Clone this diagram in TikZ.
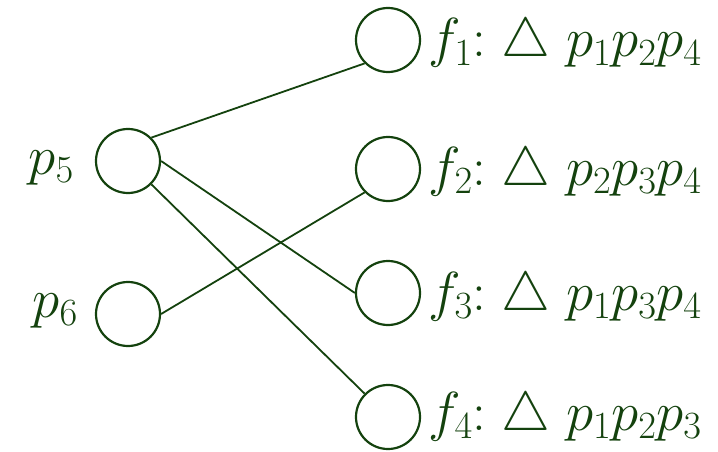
\RequirePackage{fix-cm}
\documentclass[tikz,border=0pt]{standalone}
\usepackage{amssymb}
\definecolor{dgreen}{RGB}{20,66,14}
\begin{document}
\begin{tikzpicture}[x=1pt,y=-1pt,
  vtx/.style={circle,draw=dgreen,line width=2.2pt,minimum size=64pt,inner sep=0pt},
  lbl/.style={text=dgreen,inner sep=0pt,font=\fontsize{55}{60}\selectfont},
  edge/.style={draw=dgreen,line width=1.8pt}]
\useasboundingbox (0,0) rectangle (718,452);
\node[vtx] (p5) at (128,161) {};
\node[vtx] (p6) at (128,314) {};
\node[vtx] (f1) at (388,40) {};
\node[vtx] (f2) at (388,169) {};
\node[vtx] (f3) at (388,293) {};
\node[vtx] (f4) at (388,417) {};
\node[lbl,anchor=base east] (lp5) at (74,174) {$p_5$};
\node[lbl,anchor=base east] (lp6) at (78,317) {$p_6$};
\node[lbl,anchor=base west] (lf1) at (428,57) {$f_1{:}\;\triangle\;p_1p_2p_4$};
\node[lbl,anchor=base west] (lf2) at (428,185) {$f_2{:}\;\triangle\;p_2p_3p_4$};
\node[lbl,anchor=base west] (lf3) at (428,310) {$f_3{:}\;\triangle\;p_1p_3p_4$};
\node[lbl,anchor=base west] (lf4) at (428,430) {$f_4{:}\;\triangle\;p_1p_2p_3$};
\draw[edge] (p5.45) -- (f1.225);
\draw[edge] (p5.0) -- (f3.180);
\draw[edge] (p5.-45) -- (f4.135);
\draw[edge] (p6.0) -- (f2.225);
\end{tikzpicture}
\end{document}
